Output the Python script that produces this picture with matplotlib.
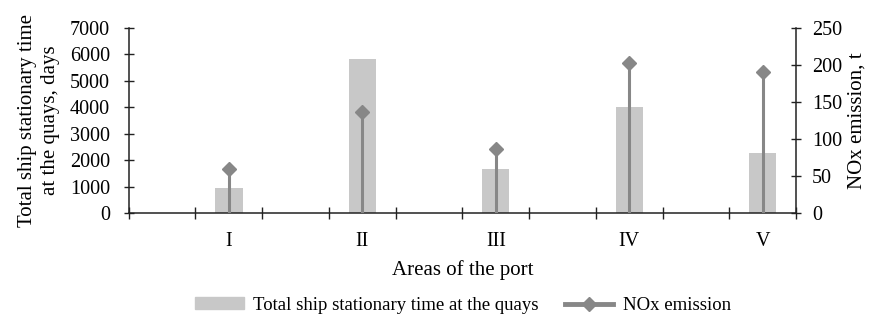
import numpy as np
import matplotlib
matplotlib.use('Agg')
import matplotlib.pyplot as plt
from matplotlib.lines import Line2D
from matplotlib.patches import Patch

plt.rcParams['font.family'] = ['Liberation Serif', 'DejaVu Serif']

# slots on the category axis (empty slots between the port areas)
areas = ['', 'I', '', 'II', '', 'III', '', 'IV', '', 'V']
days = [np.nan, 960, np.nan, 5830, np.nan, 1650, np.nan, 4020, np.nan, 2270]
nox = [np.nan, 60, np.nan, 137, np.nan, 87, np.nan, 203, np.nan, 191]

bar_col = '#c8c8c8'
nox_col = '#878787'
ax_col = '#222222'

fig = plt.figure(figsize=(8.7, 3.15), dpi=100)
ax = fig.add_axes([0.148, 0.324, 0.767, 0.587])
ax2 = ax.twinx()

x = np.arange(len(areas)) + 0.5
ax.bar(x, days, width=0.41, color=bar_col, zorder=2)

nox_arr = np.array(nox, dtype=float)
ok = ~np.isnan(nox_arr)
ax2.vlines(x[ok], 0, nox_arr[ok], color=nox_col, lw=2.2, zorder=3)
ax2.plot(x[ok], nox_arr[ok], ls='none', marker='D', ms=7.5, color=nox_col, zorder=4)

ax.set_xlim(0, len(areas))
ax.set_ylim(0, 7000)
ax2.set_ylim(0, 250)
ax.set_yticks(range(0, 7001, 1000))
ax2.set_yticks(range(0, 251, 50))

# boundaries as tick marks, labels at slot centres
ax.set_xticks(np.arange(len(areas) + 1))
ax.set_xticklabels([])
ax.set_xticks(x, minor=True)
ax.set_xticklabels(areas, minor=True)
ax.tick_params(axis='x', which='major', direction='inout', length=9, width=1, color=ax_col)
ax.tick_params(axis='x', which='minor', length=0, pad=14, labelsize=14.5)

ax.tick_params(axis='y', direction='inout', length=7, width=1, color=ax_col, labelsize=14.5, pad=10)
ax2.tick_params(axis='y', direction='inout', length=7, width=1, color=ax_col, labelsize=14.5, pad=8)

for a in (ax, ax2):
    a.spines['top'].set_visible(False)
    for s in a.spines.values():
        s.set_color(ax_col)
        s.set_linewidth(1.1)
ax.spines['right'].set_visible(False)
ax2.spines['left'].set_visible(False)
ax2.spines['bottom'].set_visible(False)

ax.set_ylabel('Total ship stationary time\nat the quays, days', fontsize=15, linespacing=1.3, labelpad=7)
ax2.set_ylabel('NOx emission, t', fontsize=15, labelpad=4)
ax.set_xlabel('Areas of the port', fontsize=15, labelpad=6)

handles = [Patch(color=bar_col),
           Line2D([], [], color=nox_col, lw=3.5, marker='D', ms=7)]
labels = ['Total ship stationary time at the quays', 'NOx emission']
fig.legend(handles, labels, loc='lower center', bbox_to_anchor=(0.532, -0.05), ncol=2,
           frameon=False, fontsize=13.5, handlelength=2.6, handleheight=0.6,
           handletextpad=0.5, columnspacing=1.4)

fig.savefig('out.png', dpi=100)
